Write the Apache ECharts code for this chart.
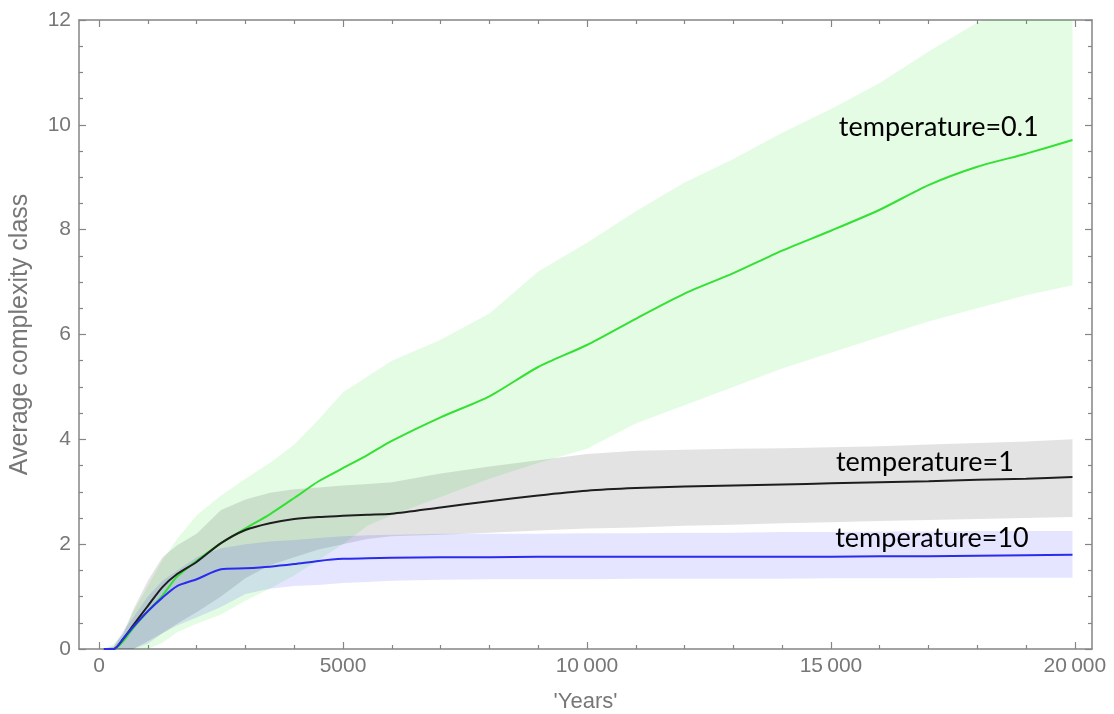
<!DOCTYPE html>
<html>
<head>
<meta charset="utf-8">
<script src="https://cdn.jsdelivr.net/npm/echarts@6/dist/echarts.min.js"></script>
<style>
  html, body { margin: 0; padding: 0; background: #fff; }
  #chart { width: 1114px; height: 714px; }
</style>
</head>
<body>
<div id="chart"></div>
<script>
// sample years shared by every curve and band
const years = [100, 300, 500, 700, 1000, 1300, 1600, 2000, 2500, 3000, 3500, 4000, 4500, 5000, 5500, 6000,
  7000, 8000, 9000, 10000, 11000, 12000, 13000, 14000, 15000, 16000, 17000, 18000, 19000, 19950];

// temperature = 0.1 (green)
const meanT01 = [0, 0, 0.15, 0.4, 0.72, 1.02, 1.38, 1.68, 2.02, 2.3, 2.57, 2.88, 3.2, 3.45, 3.7, 3.97,
  4.42, 4.82, 5.38, 5.8, 6.3, 6.78, 7.17, 7.6, 7.98, 8.38, 8.85, 9.2, 9.45, 9.71];
const upperT01 = [0, 0.1, 0.3, 0.7, 1.2, 1.7, 2.1, 2.55, 2.93, 3.25, 3.55, 3.9, 4.38, 4.9, 5.2, 5.5,
  5.9, 6.4, 7.2, 7.75, 8.35, 8.9, 9.35, 9.85, 10.3, 10.8, 11.4, 11.95, 12.3, 12.6];
const lowerT01 = [0, 0, 0, 0, 0, 0.12, 0.32, 0.48, 0.66, 0.92, 1.15, 1.4, 1.7, 2.0, 2.35, 2.55,
  2.9, 3.25, 3.55, 3.82, 4.3, 4.65, 5.0, 5.35, 5.65, 5.95, 6.25, 6.5, 6.75, 6.94];

// temperature = 1 (black)
const meanT1 = [0, 0, 0.2, 0.45, 0.82, 1.18, 1.43, 1.66, 2.02, 2.27, 2.4, 2.48, 2.52, 2.54, 2.56, 2.58,
  2.7, 2.82, 2.93, 3.02, 3.07, 3.1, 3.12, 3.14, 3.16, 3.18, 3.2, 3.23, 3.25, 3.28];
const upperT1 = [0, 0.05, 0.3, 0.75, 1.3, 1.75, 1.98, 2.2, 2.65, 2.85, 2.98, 3.05, 3.08, 3.12, 3.15, 3.18,
  3.35, 3.48, 3.6, 3.72, 3.78, 3.8, 3.82, 3.83, 3.85, 3.87, 3.9, 3.93, 3.96, 4.0];
const lowerT1 = [0, 0, 0, 0, 0.15, 0.3, 0.48, 0.7, 1.0, 1.35, 1.6, 1.75, 1.9, 2.0, 2.1, 2.15,
  2.18, 2.22, 2.26, 2.3, 2.32, 2.35, 2.37, 2.4, 2.42, 2.44, 2.46, 2.48, 2.5, 2.52];

// temperature = 10 (blue)
const meanT10 = [0, 0, 0.2, 0.42, 0.72, 0.98, 1.2, 1.33, 1.52, 1.54, 1.57, 1.62, 1.68, 1.72, 1.73, 1.74,
  1.75, 1.75, 1.76, 1.76, 1.76, 1.76, 1.76, 1.76, 1.76, 1.77, 1.77, 1.78, 1.79, 1.8];
const upperT10 = [0, 0.05, 0.35, 0.6, 1.0, 1.3, 1.5, 1.75, 1.92, 2.0, 2.05, 2.08, 2.12, 2.15, 2.17, 2.18,
  2.2, 2.2, 2.2, 2.21, 2.21, 2.22, 2.22, 2.23, 2.23, 2.24, 2.24, 2.25, 2.25, 2.25];
const lowerT10 = [0, 0, 0, 0, 0.1, 0.3, 0.45, 0.6, 0.8, 1.05, 1.15, 1.2, 1.22, 1.26, 1.28, 1.3,
  1.32, 1.33, 1.33, 1.33, 1.34, 1.34, 1.34, 1.34, 1.35, 1.35, 1.35, 1.36, 1.36, 1.36];

const xMajorTicks = [0, 5000, 10000, 15000, 20000];
const xMinorTicks = [1000, 2000, 3000, 4000, 6000, 7000, 8000, 9000, 11000, 12000, 13000, 14000,
  16000, 17000, 18000, 19000];
const curveLabels = ['temperature=0.1', 'temperature=1', 'temperature=10'];
const labelCoords = [[17210, 9.96], [16925, 3.57], [17070, 2.12]];

const X_MIN = -410;
const X_MAX = 20350;
const frameColor = '#858585';
const tickTextColor = '#777';
const tickFont = 'Liberation Sans, Arial, sans-serif';

const pairs = (ys) => ys.map((y, i) => [years[i], y]);

const fmtYear = (v) => {
  const s = String(v);
  return v >= 10000 ? s.slice(0, s.length - 3) + '\u2009' + s.slice(-3) : s;
};

const xAxisBase = (position, ticks, len, withLabels, withLine) => ({
  type: 'value',
  position: position,
  min: X_MIN,
  max: X_MAX,
  axisLine: { show: withLine, onZero: false, lineStyle: { color: frameColor, width: 1.5 } },
  axisTick: { show: true, inside: true, length: len, customValues: ticks,
    lineStyle: { color: frameColor, width: 1.2 } },
  axisLabel: withLabels ? {
    show: true, customValues: ticks, formatter: fmtYear, margin: 7,
    color: tickTextColor, fontSize: 21, fontFamily: tickFont
  } : { show: false },
  splitLine: { show: false }
});

const yAxisBase = (position, withLabels) => ({
  type: 'value',
  position: position,
  min: 0,
  max: 12,
  interval: 2,
  axisLine: { show: true, onZero: false, lineStyle: { color: frameColor, width: 1.5 } },
  axisTick: { show: true, inside: true, length: 7, lineStyle: { color: frameColor, width: 1.2 } },
  minorTick: { show: true, splitNumber: 4, length: 4, lineStyle: { color: frameColor, width: 1.2 } },
  axisLabel: withLabels ? {
    show: true, margin: 8, color: tickTextColor, fontSize: 21, fontFamily: tickFont
  } : { show: false },
  splitLine: { show: false },
  minorSplitLine: { show: false }
});

const bottomMajor = xAxisBase('bottom', xMajorTicks, 7, true, true);
bottomMajor.name = "'Years'";
bottomMajor.nameLocation = 'middle';
bottomMajor.nameGap = 42;
bottomMajor.nameTextStyle = { color: tickTextColor, fontSize: 22, fontFamily: tickFont };

const leftAxis = yAxisBase('left', true);
leftAxis.name = 'Average complexity class';
leftAxis.nameLocation = 'middle';
leftAxis.nameGap = 46;
leftAxis.nameTextStyle = { color: tickTextColor, fontSize: 25, fontFamily: tickFont };

// band between lower and upper, drawn as one polygon through the axis scales
const band = (lo, hi, fill) => ({
  type: 'custom',
  silent: true,
  clip: true,
  z: 1,
  data: years.map((x, i) => [x, lo[i], hi[i]]),
  encode: { x: 0, y: [1, 2] },
  renderItem: (params, api) => {
    if (params.dataIndex !== 0) return null;
    const top = years.map((x, i) => api.coord([x, hi[i]]));
    const bottom = years.map((x, i) => api.coord([x, lo[i]])).reverse();
    return {
      type: 'polygon',
      shape: { points: top.concat(bottom) },
      style: { fill: fill, stroke: null }
    };
  }
});

const meanLine = (name, ys, color, idx) => ({
  name: name, type: 'line', data: pairs(ys), symbol: 'none', smooth: 0.25,
  lineStyle: { color: color, width: 2 }, z: 3,
  markPoint: {
    symbol: 'circle', symbolSize: 1, itemStyle: { color: 'rgba(0,0,0,0)' },
    data: [{
      coord: labelCoords[idx],
      label: {
        show: true, position: 'inside', formatter: curveLabels[idx],
        color: '#000', fontSize: 27, fontFamily: 'Lato, sans-serif'
      }
    }]
  }
});

const chart = echarts.init(document.getElementById('chart'));
chart.setOption({
  animation: false,
  backgroundColor: '#fff',
  grid: { left: 79, right: 22, top: 20, bottom: 65, containLabel: false, outerBoundsMode: 'none' },
  xAxis: [
    bottomMajor,
    xAxisBase('bottom', xMinorTicks, 4, false, false),
    xAxisBase('top', xMajorTicks, 7, false, true),
    xAxisBase('top', xMinorTicks, 4, false, false)
  ],
  yAxis: [leftAxis, yAxisBase('right', false)],
  series: [
    band(lowerT01, upperT01, 'rgba(0, 230, 0, 0.105)'),
    band(lowerT1, upperT1, 'rgba(0, 0, 0, 0.11)'),
    band(lowerT10, upperT10, 'rgba(0, 0, 255, 0.1)'),
    meanLine('T=0.1', meanT01, '#33e033', 0),
    meanLine('T=1', meanT1, '#1e1e1e', 1),
    meanLine('T=10', meanT10, '#2b2bee', 2)
  ]
});
</script>
</body>
</html>
